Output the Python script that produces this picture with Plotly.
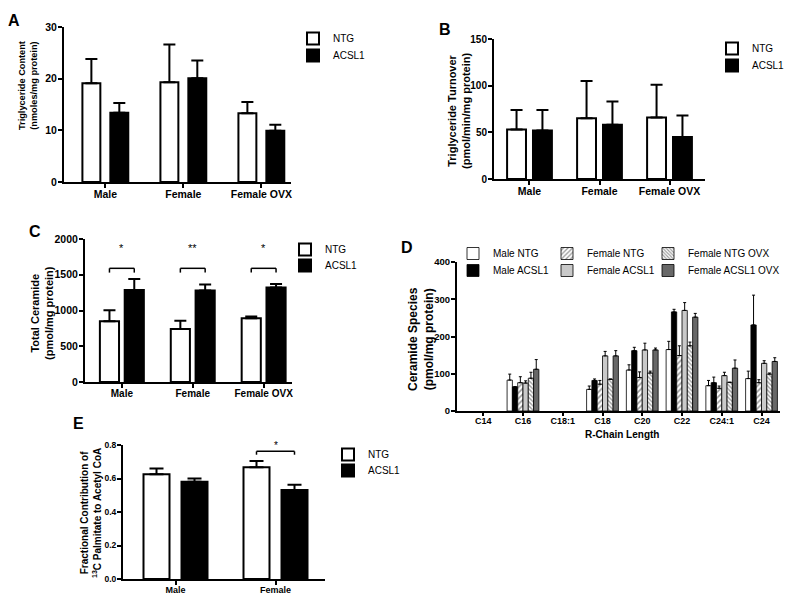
import plotly.graph_objects as go

W, H = 800, 600
FONT = "Liberation Sans, Arial, sans-serif"
SHIFT = 8  # page body margin offset of the rendered div


def px(x):
    return (x - SHIFT) / W


def py(y):
    return 1 - (y - SHIFT) / H


# ---------------- data ----------------
groups3 = ["Male", "Female", "Female OVX"]
groups2 = ["Male", "Female"]

# A: Triglyceride content
tg_ntg = [19.1, 19.3, 13.3]
tg_ntg_err = [4.7, 7.3, 2.2]
tg_acsl = [13.4, 20.1, 9.9]
tg_acsl_err = [1.9, 3.4, 1.2]

# B: Triglyceride turnover
to_ntg = [53, 65, 66]
to_ntg_err = [21, 40, 35]
to_acsl = [52, 58, 45]
to_acsl_err = [22, 25, 23]

# C: Total ceramide
cer_ntg = [850, 740, 890]
cer_ntg_err = [155, 115, 25]
cer_acsl = [1285, 1280, 1320]
cer_acsl_err = [155, 85, 50]
cer_sig = ["*", "**", "*"]

# D: Ceramide species
chains = ["C14", "C16", "C18:1", "C18", "C20", "C22", "C24:1", "C24"]
male_ntg = [None, 83, None, 58, 110, 165, 68, 87]
male_ntg_err = [None, 16, None, 9, 14, 22, 14, 20]
male_acsl = [None, 65, None, 82, 162, 266, 76, 231]
male_acsl_err = [None, 0, None, 4, 9, 7, 15, 80]
fem_ntg = [None, 76, None, 72, 90, 149, 61, 76]
fem_ntg_err = [None, 16, None, 10, 15, 26, 6, 8]
fem_acsl = [None, 75, None, 148, 164, 270, 95, 128]
fem_acsl_err = [None, 6, None, 12, 18, 21, 9, 7]
fem_ntg_ovx = [None, 88, None, 85, 102, 175, 77, 99]
fem_ntg_ovx_err = [None, 16, None, 1, 5, 10, 0, 3]
fem_acsl_ovx = [None, 112, None, 148, 164, 252, 115, 133]
fem_acsl_ovx_err = [None, 26, None, 14, 5, 10, 22, 10]

# E: Fractional contribution of 13C palmitate
fc_ntg = [0.625, 0.667]
fc_ntg_err = [0.035, 0.038]
fc_acsl = [0.58, 0.532]
fc_acsl_err = [0.02, 0.03]
fc_sig = [None, "*"]

fig = go.Figure()
legend_defs = {}
legend_count = [0]


def new_legend(text_x, center_y, size=10):
    legend_count[0] += 1
    n = legend_count[0]
    key = "legend" if n == 1 else f"legend{n}"
    legend_defs[key] = dict(
        x=px(text_x - 40), y=py(center_y - 13), xanchor="left", yanchor="top",
        bgcolor="rgba(0,0,0,0)", borderwidth=0,
        font=dict(family=FONT, size=size, color="black"),
    )
    return key


def err(arr, n, thick=2, capw=6):
    return dict(type="data", array=arr, arrayminus=[0] * n, symmetric=False,
                color="black", thickness=thick, width=capw)


def pair(ax, cats, ntg, ntg_e, acsl, acsl_e, off_n, off_a, wid, leg_x, leg_y1, leg_y2, capw=6):
    xa = "x" if ax == 1 else f"x{ax}"
    ya = "y" if ax == 1 else f"y{ax}"
    n = len(cats)
    fig.add_trace(go.Bar(
        x=cats, y=ntg, xaxis=xa, yaxis=ya, name="NTG",
        legend=new_legend(leg_x, leg_y1), width=wid, offset=off_n,
        marker=dict(color="white", line=dict(color="black", width=2)),
        error_y=err(ntg_e, n, 2, capw)))
    fig.add_trace(go.Bar(
        x=cats, y=acsl, xaxis=xa, yaxis=ya, name="ACSL1",
        legend=new_legend(leg_x, leg_y2), width=wid, offset=off_a,
        marker=dict(color="black", line=dict(color="black", width=2)),
        error_y=err(acsl_e, n, 2, capw)))


# A, B, C, E
pair(1, groups3, tg_ntg, tg_ntg_err, tg_acsl, tg_acsl_err, -0.294, 0.064, 0.23, 333, 37, 54)
pair(2, groups3, to_ntg, to_ntg_err, to_acsl, to_acsl_err, -0.32, 0.05, 0.27, 752, 47, 64)
pair(3, groups3, cer_ntg, cer_ntg_err, cer_acsl, cer_acsl_err, -0.31, 0.04, 0.27, 325, 248, 264)
pair(5, groups2, fc_ntg, fc_ntg_err, fc_acsl, fc_acsl_err, -0.32, 0.06, 0.26, 368, 453, 469, capw=7)

# D
d_series = [
    ("Male NTG", male_ntg, male_ntg_err, dict(color="white"), (493, 252)),
    ("Male ACSL1", male_acsl, male_acsl_err, dict(color="black"), (493, 269)),
    ("Female NTG", fem_ntg, fem_ntg_err,
     dict(color="white", pattern=dict(shape="/", fgcolor="#333333", bgcolor="white", size=4, solidity=0.4)),
     (587, 252)),
    ("Female ACSL1", fem_acsl, fem_acsl_err, dict(color="#c9c9c9"), (587, 269)),
    ("Female NTG OVX", fem_ntg_ovx, fem_ntg_ovx_err,
     dict(color="white", pattern=dict(shape="\\", fgcolor="#333333", bgcolor="white", size=3, solidity=0.45)),
     (688, 252)),
    ("Female ACSL1 OVX", fem_acsl_ovx, fem_acsl_ovx_err, dict(color="#686868"), (688, 269)),
]
bw = 0.8 / 6
for i, (name, vals, errs, mk, (lx, ly)) in enumerate(d_series):
    m = dict(mk)
    m["line"] = dict(color="black", width=0.8)
    fig.add_trace(go.Bar(
        x=chains, y=vals, xaxis="x4", yaxis="y4", name=name,
        legend=new_legend(lx, ly), width=bw, offset=-0.4 + i * bw,
        marker=m, error_y=err(errs, len(chains), 1, 1.5)))


def xax(x0, x1, rng, anchor, size, lw=2):
    return dict(domain=[px(x0), px(x1)], range=rng, anchor=anchor, type="category",
                showline=True, linewidth=lw, linecolor="black", ticks="outside",
                ticklen=4, tickwidth=lw, tickcolor="black", showgrid=False, zeroline=False,
                automargin=False, ticklabelstandoff=-3,
                tickfont=dict(family=FONT, size=size, color="black", weight="bold"),
                fixedrange=True)


def yax(y_top, y_bot, rng, dtick, anchor, size, fmt=None, lw=2):
    d = dict(domain=[py(y_bot), py(y_top)], range=rng, anchor=anchor,
             showline=True, linewidth=lw, linecolor="black", ticks="outside",
             ticklen=4, tickwidth=lw, tickcolor="black", showgrid=False, zeroline=False,
             tick0=0, dtick=dtick, automargin=False, ticklabelstandoff=-1,
             tickfont=dict(family=FONT, size=size, color="black", weight="bold"),
             fixedrange=True)
    if fmt:
        d["tickformat"] = fmt
    return d


layout = dict(
    width=W, height=H, margin=dict(l=0, r=0, t=0, b=0, pad=0, autoexpand=False),
    paper_bgcolor="white", plot_bgcolor="white",
    barmode="overlay", showlegend=True,
    font=dict(family=FONT, color="black"),
    xaxis=xax(64, 291, [-0.53, 2.38], "y", 10.5),
    yaxis=yax(27, 182, [0, 30], 10, "x", 10.5),
    xaxis2=xax(494, 705, [-0.507, 2.507], "y2", 10.5),
    yaxis2=yax(39, 179, [0, 150], 50, "x2", 10),
    xaxis3=xax(85, 292, [-0.52, 2.4], "y3", 10),
    yaxis3=yax(239, 382, [0, 2000], 500, "x3", 10.5),
    xaxis4=xax(457, 780, [-0.66, 7.465], "y4", 9),
    yaxis4=yax(262, 411, [0, 400], 100, "x4", 9.5),
    xaxis5=xax(123, 325, [-0.525, 1.495], "y5", 9),
    yaxis5=yax(445, 579, [0, 0.8], 0.2, "x5", 8.5, fmt=".1f"),
)
layout["xaxis4"]["ticklen"] = 3
layout.update(legend_defs)

annotations = []


def ann(text, x, y, size, angle=0, bold=True):
    annotations.append(dict(
        text=text, x=px(x), y=py(y), xref="paper", yref="paper",
        xanchor="center", yanchor="middle", textangle=angle, showarrow=False,
        font=dict(family=FONT, size=size, color="black", weight="bold" if bold else "normal")))


# panel letters
ann("A", 14, 20, 16)
ann("B", 445, 29, 16)
ann("C", 35, 232, 16)
ann("D", 407, 247, 16)
ann("E", 78, 423, 16)

# axis titles
ann("Triglyceride Content<br>(nmoles/mg protein)", 28, 86, 9.2, -90)
ann("Triglyceride Turnover<br>(pmol/min/mg protein)", 459, 111, 11, -90)
ann("Total Ceramide<br>(pmol/mg protein)", 42, 313, 11, -90)
ann("Ceramide Species<br>(pmol/mg protein)", 421, 339, 12, -90)
ann("Fractional Contribution of<br><sup>13</sup>C Palmitate to Acetyl CoA", 91, 513, 10, -90)
ann("R-Chain Length", 622, 434, 10)

shapes = []


def bracket(ax, i, half, y_top, y_leg, star, star_y, size):
    xr = f"x{ax}"
    yr = f"y{ax}"
    x0, x1 = i - half, i + half
    ln = dict(color="black", width=1.5)
    shapes.append(dict(type="line", xref=xr, yref=yr, x0=x0, x1=x1, y0=y_top, y1=y_top, line=ln))
    shapes.append(dict(type="line", xref=xr, yref=yr, x0=x0, x1=x0, y0=y_leg, y1=y_top, line=ln))
    shapes.append(dict(type="line", xref=xr, yref=yr, x0=x1, x1=x1, y0=y_leg, y1=y_top, line=ln))
    annotations.append(dict(text=star, x=i, y=star_y, xref=xr, yref=yr, showarrow=False,
                            xanchor="center", yanchor="middle",
                            font=dict(family=FONT, size=size, color="black")))


for i, s in enumerate(cer_sig):
    bracket(3, i, 0.175, 1590, 1530, s, 1875, 11)
for i, s in enumerate(fc_sig):
    if s:
        bracket(5, i, 0.19, 0.762, 0.742, s, 0.797, 10)

layout["annotations"] = annotations
layout["shapes"] = shapes
fig.update_layout(**layout)

fig.write_html("out.html")
